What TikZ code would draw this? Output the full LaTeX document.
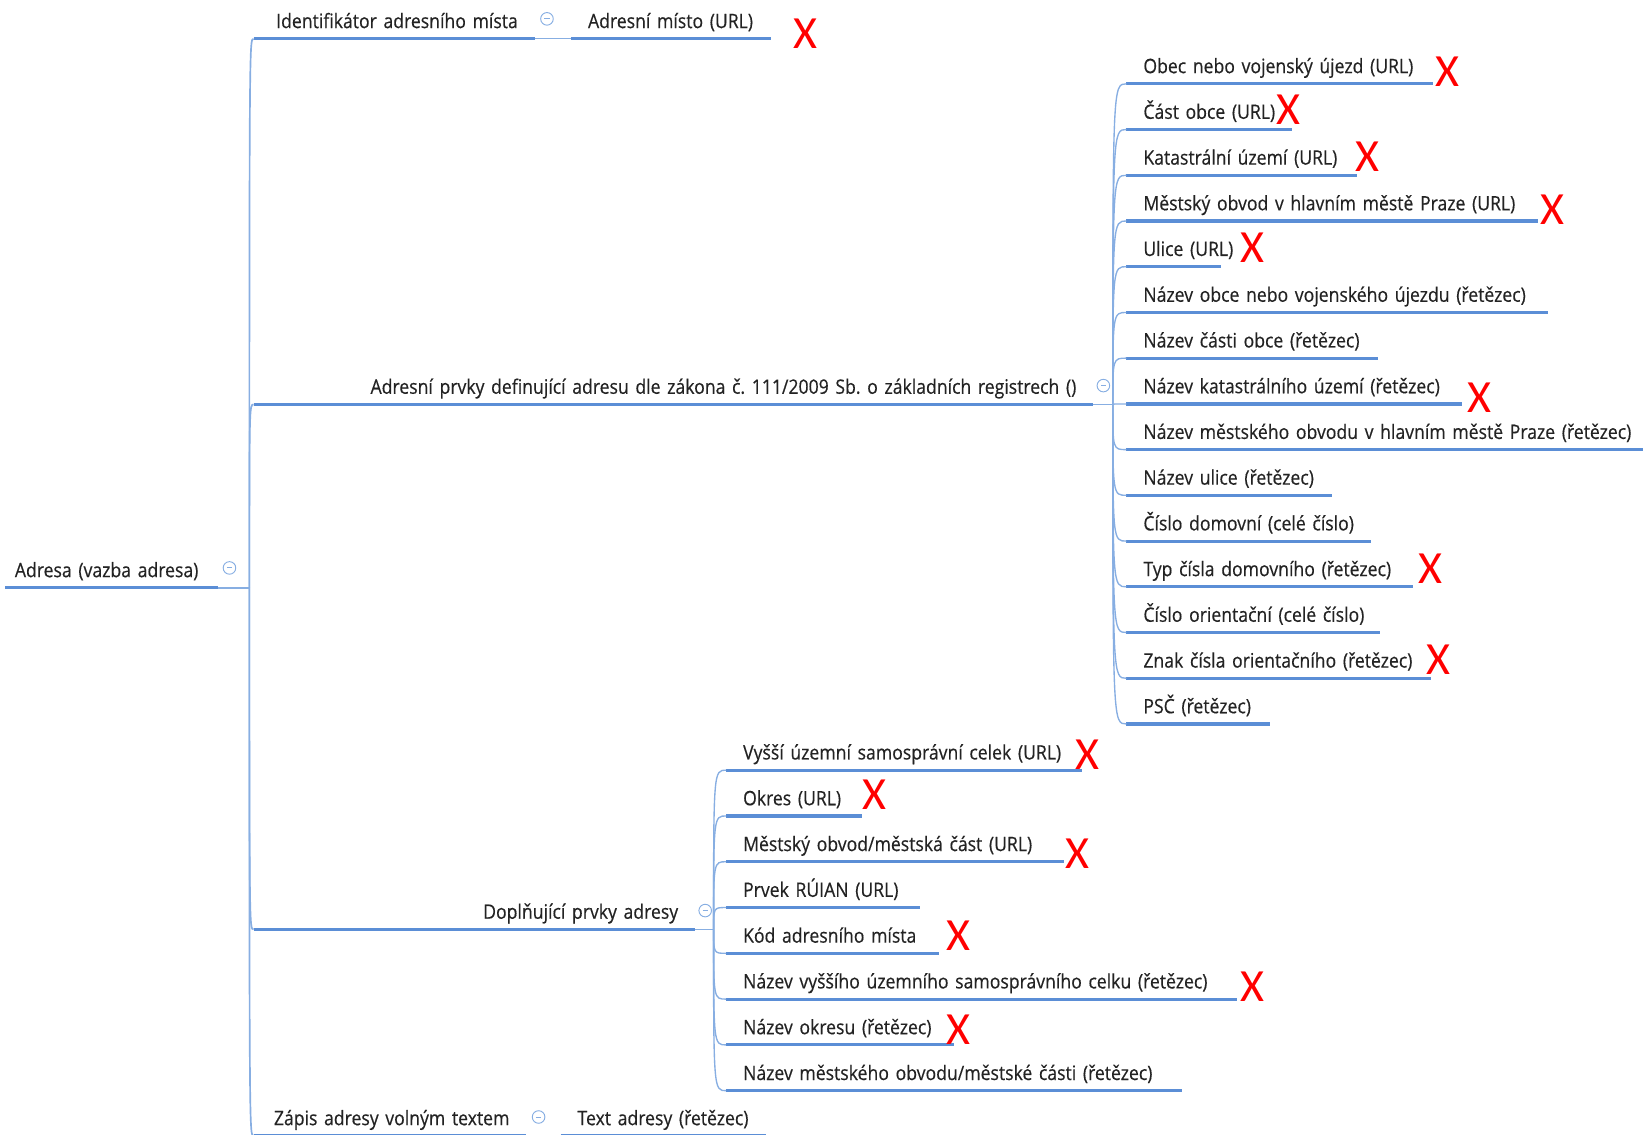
\documentclass[tikz,border=0pt]{standalone}
\usepackage{fontspec}
\setmainfont{Open Sans}[FakeStretch=0.885, WordSpace=0.8, FakeBold=0.4]
\newfontfamily\xfont{Carlito}
\definecolor{ulc}{RGB}{91,142,214}
\definecolor{thc}{RGB}{135,174,226}
\definecolor{txc}{RGB}{35,35,35}
\frenchspacing
\begin{document}
\begin{tikzpicture}[x=1pt,y=-1pt,
 topic/.style={anchor=south west, inner xsep=16pt, inner ysep=0pt, text height=14pt, text depth=10pt, align=left, font=\fontsize{19}{22}\selectfont\frenchspacing, text=txc},
 topicr/.style={topic, align=right},
 ul/.style={draw=ulc, line width=3pt},
 conn/.style={draw=thc, line width=1.3pt},
 coll/.style={circle, draw=thc, line width=0.9pt, minimum size=12pt, inner sep=0pt,
   path picture={\draw[thc, line width=0.9pt] ([xshift=-2.5pt]path picture bounding box.center) -- ([xshift=2.5pt]path picture bounding box.center);}},
 cross/.style={text=red, font=\xfont\fontsize{44}{44}\selectfont, inner sep=0pt}
]
\useasboundingbox (0,0) rectangle (1568,1083);

% root
\node[topic, inner xsep=9pt, text width=185pt] (root) at (5,561) {\mbox{Adresa (vazba adresa)}};
% level 1
\node[topicr, text width=236pt] (id) at (242,37) {\mbox{Identifikátor adresního místa}};
\node[topicr, text width=769pt] (prv) at (242,386) {\mbox{Adresní prvky definující adresu dle zákona č. 111/2009 Sb. o základních registrech ()}};
\node[topicr, text width=389pt] (dop) at (242,887) {\mbox{Doplňující prvky adresy}};
\node[topicr, text width=228pt] (zap) at (242,1084) {\mbox{Zápis adresy volným textem}};
% level 2
\node[topic, text width=158pt] (adm) at (545,37) {\mbox{Adresní místo (URL)}};
\node[topic, text width=164pt] (tad) at (535,1084) {\mbox{Text adresy (řetězec)}};

\node[topic, text width=260pt] (p1) at (1075,80) {\mbox{Obec nebo vojenský újezd (URL)}};
\node[topic, text width=126pt] (p2) at (1075,123.6) {\mbox{Část obce (URL)}};
\node[topic, text width=188pt] (p3) at (1075,167.3) {\mbox{Katastrální území (URL)}};
\node[topic, text width=360pt] (p4) at (1075,210.9) {\mbox{Městský obvod v hlavním městě Praze (URL)}};
\node[topic, text width=58pt] (p5) at (1075,254.5) {\mbox{Ulice (URL)}};
\node[topic, text width=370pt] (p6) at (1075,298.2) {\mbox{Název obce nebo vojenského újezdu (řetězec)}};
\node[topic, text width=208pt] (p7) at (1075,341.8) {\mbox{Název části obce (řetězec)}};
\node[topic, text width=288pt] (p8) at (1075,385.5) {\mbox{Název katastrálního území (řetězec)}};
\node[topic, text width=461pt] (p9) at (1075,429.1) {\mbox{Název městského obvodu v hlavním městě Praze (řetězec)}};
\node[topic, text width=164pt] (p10) at (1075,472.7) {\mbox{Název ulice (řetězec)}};
\node[topic, text width=201pt] (p11) at (1075,516.4) {\mbox{Číslo domovní (celé číslo)}};
\node[topic, text width=241pt] (p12) at (1075,560) {\mbox{Typ čísla domovního (řetězec)}};
\node[topic, text width=210pt] (p13) at (1075,603.6) {\mbox{Číslo orientační (celé číslo)}};
\node[topic, text width=258pt] (p14) at (1075,647.3) {\mbox{Znak čísla orientačního (řetězec)}};
\node[topic, text width=105pt] (p15) at (1075,690.9) {\mbox{PSČ (řetězec)}};

\node[topic, text width=307pt] (d1) at (693,735) {\mbox{Vyšší územní samosprávní celek (URL)}};
\node[topic, text width=97pt] (d2) at (693,778.7) {\mbox{Okres (URL)}};
\node[topic, text width=290pt] (d3) at (693,822.4) {\mbox{Městský obvod/městská část (URL)}};
\node[topic, text width=153pt] (d4) at (693,866.1) {\mbox{Prvek RÚIAN (URL)}};
\node[topic, text width=171pt] (d5) at (693,909.8) {\mbox{Kód adresního místa}};
\node[topic, text width=455pt] (d6) at (693,953.5) {\mbox{Název vyššího územního samosprávního celku (řetězec)}};
\node[topic, text width=185pt] (d7) at (693,997.2) {\mbox{Název okresu (řetězec)}};
\node[topic, text width=403pt] (d8) at (693,1040.9) {\mbox{Název městského obvodu/městské části (řetězec)}};

% underlines
\foreach \n in {root,id,prv,dop,zap,adm,tad,p1,p2,p3,p4,p5,p6,p7,p8,p9,p10,p11,p12,p13,p14,p15,d1,d2,d3,d4,d5,d6,d7,d8}
  \draw[ul] (\n.south west) -- (\n.south east);

% junctions
\coordinate (j0) at (238,561);
\coordinate (j1) at (1062,386);
\coordinate (j2) at (681,887);

\draw[conn] (root.south east) -- (j0);
\foreach \c in {id,prv,dop,zap}
  \draw[conn, line width=1.6pt] (j0) .. controls (j0 |- \c.south west) .. (\c.south west);
\draw[conn] (id.south east) -- (adm.south west);
\draw[conn] (zap.south east) -- (tad.south west);
\draw[conn] (prv.south east) -- (j1);
\foreach \c in {p1,p2,p3,p4,p5,p6,p7,p8,p9,p10,p11,p12,p13,p14,p15}
  \draw[conn] (j1) .. controls (j1 |- \c.south west) .. (\c.south west);
\draw[conn] (dop.south east) -- (j2);
\foreach \c in {d1,d2,d3,d4,d5,d6,d7,d8}
  \draw[conn] (j2) .. controls (j2 |- \c.south west) .. (\c.south west);

% collapse markers
\node[coll] (k0) at (219,542) {};
\node[coll] (k1) at (522,18) {};
\node[coll] (k2) at (1053,368) {};
\node[coll] (k3) at (673,869) {};
\node[coll] (k4) at (514,1066) {};

% red crosses
\node[cross] (x1) at (769,32) {X};
\node[cross] (x2) at (1381,68) {X};
\node[cross] (x3) at (1230,105) {X};
\node[cross] (x4) at (1305,150) {X};
\node[cross] (x5) at (1482,200) {X};
\node[cross] (x6) at (1195,236) {X};
\node[cross] (x7) at (1412,380) {X};
\node[cross] (x8) at (1365,543) {X};
\node[cross] (x9) at (1373,630) {X};
\node[cross] (x10) at (1038,720) {X};
\node[cross] (x11) at (835,758) {X};
\node[cross] (x12) at (1028,815) {X};
\node[cross] (x13) at (915,893) {X};
\node[cross] (x14) at (1195,942) {X};
\node[cross] (x15) at (915,983) {X};
\end{tikzpicture}
\end{document}
